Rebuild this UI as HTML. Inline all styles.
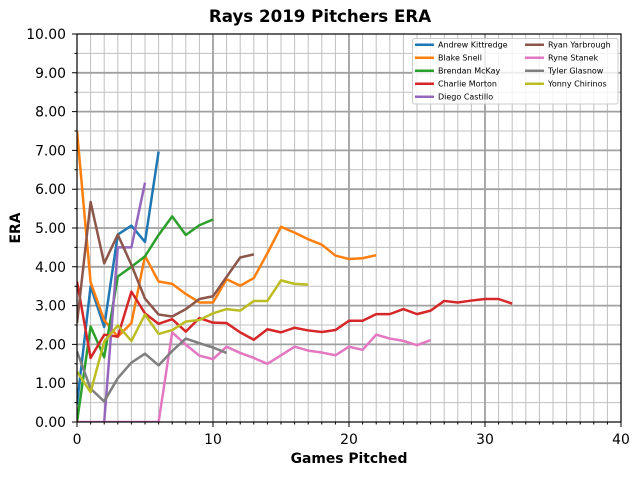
<!DOCTYPE html>
<html><head><meta charset="utf-8">
<style>
html,body{margin:0;padding:0;background:#fff;}
svg{display:block;font-family:"DejaVu Sans","Liberation Sans",sans-serif;}
</style></head>
<body>
<svg width="640" height="480" viewBox="0 0 640 480" xmlns="http://www.w3.org/2000/svg">
<defs><clipPath id="ax"><rect x="77" y="34" width="544" height="388"/></clipPath></defs>
<rect width="640" height="480" fill="#fff"/>
<text x="320" y="22" text-anchor="middle" font-size="16.67" font-weight="bold">Rays 2019 Pitchers ERA</text>
<g transform="translate(77,422) scale(13.6,-38.8)">
<path vector-effect="non-scaling-stroke" stroke="#c0c0c0" stroke-width="1" fill="none" d="M1 0V10M2 0V10M3 0V10M4 0V10M5 0V10M6 0V10M7 0V10M8 0V10M9 0V10M11 0V10M12 0V10M13 0V10M14 0V10M15 0V10M16 0V10M17 0V10M18 0V10M19 0V10M21 0V10M22 0V10M23 0V10M24 0V10M25 0V10M26 0V10M27 0V10M28 0V10M29 0V10M31 0V10M32 0V10M33 0V10M34 0V10M35 0V10M36 0V10M37 0V10M38 0V10M39 0V10M0 0.5H40M0 1.5H40M0 2.5H40M0 3.5H40M0 4.5H40M0 5.5H40M0 6.5H40M0 7.5H40M0 8.5H40M0 9.5H40"/>
<path vector-effect="non-scaling-stroke" stroke="#a0a0a0" stroke-width="1.8" fill="none" d="M10 0V10M20 0V10M30 0V10M0 1H40M0 2H40M0 3H40M0 4H40M0 5H40M0 6H40M0 7H40M0 8H40M0 9H40"/>
</g>
<g clip-path="url(#ax)">
<g transform="translate(77,422) scale(13.6,-38.8)" fill="none" stroke-width="2.5" stroke-linejoin="round">
<polyline vector-effect="non-scaling-stroke" stroke="#1f77b4" points="0,0.45 1,3.5 2,2.45 3,4.83 4,5.06 5,4.64 6,6.97"/>
<polyline vector-effect="non-scaling-stroke" stroke="#ff7f0e" points="0,7.5 1,3.6 2,2.62 3,2.2 4,2.55 5,4.28 6,3.62 7,3.56 8,3.3 9,3.08 10,3.08 11,3.68 12,3.51 13,3.71 14,4.35 15,5.03 16,4.88 17,4.71 18,4.57 19,4.29 20,4.2 21,4.22 22,4.3"/>
<polyline vector-effect="non-scaling-stroke" stroke="#2ca02c" points="0,0 1,2.46 2,1.67 3,3.75 4,4.0 5,4.27 6,4.82 7,5.3 8,4.82 9,5.07 10,5.22"/>
<polyline vector-effect="non-scaling-stroke" stroke="#d62728" points="0,3.62 1,1.65 2,2.25 3,2.2 4,3.36 5,2.8 6,2.53 7,2.65 8,2.33 9,2.68 10,2.56 11,2.55 12,2.31 13,2.12 14,2.39 15,2.31 16,2.43 17,2.36 18,2.32 19,2.37 20,2.61 21,2.61 22,2.78 23,2.78 24,2.91 25,2.78 26,2.87 27,3.12 28,3.08 29,3.13 30,3.17 31,3.17 32,3.05"/>
<polyline vector-effect="non-scaling-stroke" stroke="#9467bd" points="2,0 3,4.5 4,4.5 5,6.17"/>
<polyline vector-effect="non-scaling-stroke" stroke="#8c564b" points="0,2.55 1,5.67 2,4.09 3,4.83 4,4.05 5,3.18 6,2.77 7,2.72 8,2.91 9,3.17 10,3.24 11,3.74 12,4.24 13,4.32"/>
<polyline vector-effect="non-scaling-stroke" stroke="#e377c2" points="0,0 1,0 2,0 3,0 4,0 5,0 6,0 7,2.31 8,1.99 9,1.71 10,1.62 11,1.94 12,1.78 13,1.65 14,1.5 15,1.72 16,1.94 17,1.84 18,1.79 19,1.72 20,1.94 21,1.86 22,2.25 23,2.15 24,2.09 25,1.98 26,2.11"/>
<polyline vector-effect="non-scaling-stroke" stroke="#7f7f7f" points="0,1.82 1,0.86 2,0.53 3,1.13 4,1.53 5,1.76 6,1.46 7,1.83 8,2.15 9,2.03 10,1.92 11,1.78"/>
<polyline vector-effect="non-scaling-stroke" stroke="#bcbd22" points="0,1.3 1,0.77 2,2.07 3,2.49 4,2.09 5,2.77 6,2.27 7,2.37 8,2.59 9,2.63 10,2.8 11,2.91 12,2.87 13,3.12 14,3.12 15,3.65 16,3.56 17,3.54"/>
</g>
</g>
<rect x="77" y="34" width="544" height="388" fill="none" stroke="#000" stroke-width="1.2"/>
<g stroke="#000" stroke-width="1">
<path d="M72 422H77M72 383.2H77M72 344.4H77M72 305.6H77M72 266.8H77M72 228H77M72 189.2H77M72 150.4H77M72 111.6H77M72 72.8H77M72 34H77"/>
<path d="M74.5 402.6H77M74.5 363.8H77M74.5 325H77M74.5 286.2H77M74.5 247.4H77M74.5 208.6H77M74.5 169.8H77M74.5 131H77M74.5 92.2H77M74.5 53.4H77"/>
<path d="M77 422V427M213 422V427M349 422V427M485 422V427M621 422V427"/>
<path d="M90.6 422V424.5M104.2 422V424.5M117.8 422V424.5M131.4 422V424.5M145 422V424.5M158.6 422V424.5M172.2 422V424.5M185.8 422V424.5M199.4 422V424.5M226.6 422V424.5M240.2 422V424.5M253.8 422V424.5M267.4 422V424.5M281 422V424.5M294.6 422V424.5M308.2 422V424.5M321.8 422V424.5M335.4 422V424.5M362.6 422V424.5M376.2 422V424.5M389.8 422V424.5M403.4 422V424.5M417 422V424.5M430.6 422V424.5M444.2 422V424.5M457.8 422V424.5M471.4 422V424.5M498.6 422V424.5M512.2 422V424.5M525.8 422V424.5M539.4 422V424.5M553 422V424.5M566.6 422V424.5M580.2 422V424.5M593.8 422V424.5M607.4 422V424.5"/>
</g>
<g font-size="13.9" text-anchor="end" fill="#000">
<text x="66" y="427">0.00</text>
<text x="66" y="388.2">1.00</text>
<text x="66" y="349.4">2.00</text>
<text x="66" y="310.6">3.00</text>
<text x="66" y="271.8">4.00</text>
<text x="66" y="233">5.00</text>
<text x="66" y="194.2">6.00</text>
<text x="66" y="155.4">7.00</text>
<text x="66" y="116.6">8.00</text>
<text x="66" y="77.8">9.00</text>
<text x="66" y="39">10.00</text>
</g>
<g font-size="13.9" text-anchor="middle" fill="#000">
<text x="77" y="444">0</text>
<text x="213" y="444">10</text>
<text x="349" y="444">20</text>
<text x="485" y="444">30</text>
<text x="621" y="444">40</text>
</g>
<text x="349" y="463" text-anchor="middle" font-size="13.9" font-weight="bold">Games Pitched</text>
<text transform="translate(20,228) rotate(-90)" text-anchor="middle" font-size="13.9" font-weight="bold">ERA</text>
<rect x="412.5" y="38.5" width="205.5" height="65.5" rx="2" fill="#fff" fill-opacity="0.8" stroke="#cccccc" stroke-width="1"/>
<g stroke-width="2.5">
<line x1="415" y1="44.7" x2="434" y2="44.7" stroke="#1f77b4"/>
<line x1="415" y1="57.7" x2="434" y2="57.7" stroke="#ff7f0e"/>
<line x1="415" y1="70.7" x2="434" y2="70.7" stroke="#2ca02c"/>
<line x1="415" y1="83.7" x2="434" y2="83.7" stroke="#d62728"/>
<line x1="415" y1="96.7" x2="434" y2="96.7" stroke="#9467bd"/>
<line x1="525" y1="44.7" x2="544" y2="44.7" stroke="#8c564b"/>
<line x1="525" y1="57.7" x2="544" y2="57.7" stroke="#e377c2"/>
<line x1="525" y1="70.7" x2="544" y2="70.7" stroke="#7f7f7f"/>
<line x1="525" y1="83.7" x2="544" y2="83.7" stroke="#bcbd22"/>
</g>
<g font-size="8" fill="#000">
<text x="438" y="47.6">Andrew Kittredge</text>
<text x="438" y="60.6">Blake Snell</text>
<text x="438" y="73.6">Brendan McKay</text>
<text x="438" y="86.6">Charlie Morton</text>
<text x="438" y="99.6">Diego Castillo</text>
<text x="548" y="47.6">Ryan Yarbrough</text>
<text x="548" y="60.6">Ryne Stanek</text>
<text x="548" y="73.6">Tyler Glasnow</text>
<text x="548" y="86.6">Yonny Chirinos</text>
</g>
</svg>
</body></html>
